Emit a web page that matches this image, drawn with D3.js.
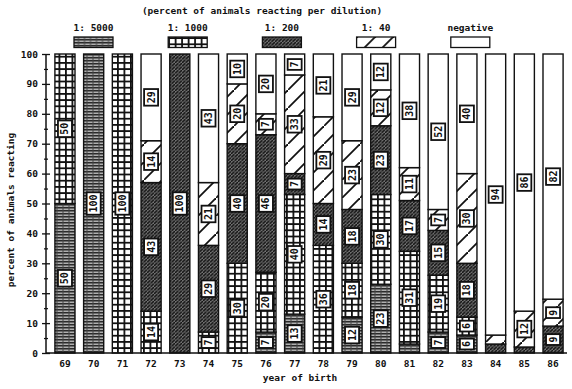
<!DOCTYPE html>
<html>
<head>
<meta charset="utf-8">
<script src="https://cdn.jsdelivr.net/npm/d3@7"></script>
<style>
  body { margin: 0; background: #fff; }
  svg text { font-family: "DejaVu Sans Mono", monospace; font-weight: bold; fill: #111; }
</style>
</head>
<body>
<div id="chart"></div>
<script>
// values, bottom to top of each bar
var years    = ["69","70","71","72","73","74","75","76","77","78","79","80","81","82","83","84","85","86"];
var d5000    = [50,100,  0,  0,  0,  0,  0,  7, 13,  0, 12, 23,  3,  7,  6,  0,  0,  0];
var d1000    = [50,  0,100, 14,  0,  7, 30, 20, 40, 36, 18, 30, 31, 19,  6,  0,  0,  0];
var d200     = [ 0,  0,  0, 43,100, 29, 40, 46,  7, 14, 18, 23, 17, 15, 18,  3,  2,  9];
var d40      = [ 0,  0,  0, 14,  0, 21, 20,  7, 33, 29, 23, 12, 11,  7, 30,  3, 12,  9];
var dNeg     = [ 0,  0,  0, 29,  0, 43, 10, 20,  7, 21, 29, 12, 38, 52, 40, 94, 86, 82];
var keys     = ["1: 5000","1: 1000","1: 200","1: 40","negative"];
var yTicks   = [0,10,20,30,40,50,60,70,80,90,100];

var W = 572, H = 389;
var svg = d3.select("#chart").append("svg").attr("width", W).attr("height", H);

// fill patterns
var defs = svg.append("defs");
var p = defs.append("pattern").attr("id","p5000").attr("patternUnits","userSpaceOnUse").attr("width",6).attr("height",3);
p.append("rect").attr("width",6).attr("height",3).attr("fill","#b0b0b0");
p.append("rect").attr("width",6).attr("height",1.5).attr("fill","#2a2a2a");
p.append("rect").attr("x",2.5).attr("width",1).attr("height",3).attr("fill","#444");
p = defs.append("pattern").attr("id","p1000").attr("patternUnits","userSpaceOnUse").attr("width",6.5).attr("height",6.2);
p.append("rect").attr("width",6.5).attr("height",6.2).attr("fill","#111");
p.append("rect").attr("x",1.8).attr("y",1.8).attr("width",4.7).attr("height",4.4).attr("fill","#fff");
p = defs.append("pattern").attr("id","p200").attr("patternUnits","userSpaceOnUse").attr("width",3.5).attr("height",3.5);
p.append("rect").attr("width",3.5).attr("height",3.5).attr("fill","#707070");
p.append("path").attr("d","M-1,4.5 L4.5,-1").attr("stroke","#111").attr("stroke-width",1.4);
p = defs.append("pattern").attr("id","p40").attr("patternUnits","userSpaceOnUse").attr("width",18).attr("height",18);
p.append("rect").attr("width",18).attr("height",18).attr("fill","#fff");
p.append("path").attr("d","M-2,20 L20,-2").attr("stroke","#111").attr("stroke-width",1.8);
var fills = {"1: 5000":"url(#p5000)","1: 1000":"url(#p1000)","1: 200":"url(#p200)","1: 40":"url(#p40)","negative":"#fff"};

var data = years.map(function(yr, i) {
  return {year: yr, "1: 5000": d5000[i], "1: 1000": d1000[i], "1: 200": d200[i], "1: 40": d40[i], "negative": dNeg[i]};
});

var x = d3.scaleBand().domain(years).range([50.6, 567.4]).paddingInner(0.3).paddingOuter(0.15);
var y = d3.scaleLinear().domain([0, 100]).range([353, 54]);

var series = d3.stack().keys(keys)(data);

var g = svg.append("g");
g.selectAll("g.ser")
  .data(series)
  .enter().append("g")
    .attr("class","ser")
    .attr("fill", function(d) { return fills[d.key]; })
  .selectAll("rect")
  .data(function(d) { return d.filter(function(e) { return e[1] - e[0] > 0; }); })
  .enter().append("rect")
    .attr("x", function(d) { return x(d.data.year); })
    .attr("y", function(d) { return y(d[1]); })
    .attr("width", x.bandwidth())
    .attr("height", function(d) { return y(d[0]) - y(d[1]); })
    .attr("stroke", "#111")
    .attr("stroke-width", 1.4);

// value boxes inside segments
series.forEach(function(s) {
  s.forEach(function(d) {
    var v = d[1] - d[0];
    if (v < 5) return;
    var cx = x(d.data.year) + x.bandwidth() / 2;
    var cy = y((d[0] + d[1]) / 2);
    var txt = String(v);
    var len = txt.length * 5.8 + 5;
    var lb = g.append("g").attr("transform", "translate(" + cx + "," + cy + ")");
    lb.append("rect").attr("x", -7).attr("y", -len / 2).attr("width", 14).attr("height", len)
      .attr("fill", "#fff").attr("stroke", "#111").attr("stroke-width", 1.8);
    lb.append("text").attr("transform", "rotate(-90)").attr("text-anchor", "middle")
      .attr("dy", "0.35em").attr("font-size", 10).text(txt);
  });
});

// y axis with crossing ticks
var ya = svg.append("g").attr("transform", "translate(46,0)")
  .call(d3.axisLeft(y).tickValues(yTicks).tickSize(4).tickPadding(4));
ya.select(".domain").attr("stroke","#111").attr("stroke-width",1.5).attr("d","M0,353V54");
ya.selectAll(".tick line").attr("x1", 4).attr("x2", -4).attr("stroke","#111").attr("stroke-width",1.3);
ya.selectAll(".tick text").attr("font-size", 9.5).style("font-family","DejaVu Sans Mono").style("font-weight","bold");
var ym = svg.append("g").attr("transform", "translate(46,0)")
  .call(d3.axisLeft(y).tickValues(d3.range(5, 100, 10)).tickSize(2).tickFormat(""));
ym.select(".domain").remove();
ym.selectAll(".tick line").attr("x1", 2).attr("stroke","#111").attr("stroke-width",1.2);

// x axis
var xa = svg.append("g").attr("transform", "translate(0,353)")
  .call(d3.axisBottom(x).tickSize(0).tickPadding(7));
xa.select(".domain").attr("stroke","#111").attr("stroke-width",1.5).attr("d","M46,0H567");
xa.selectAll(".tick text").attr("font-size", 9.5).style("font-family","DejaVu Sans Mono").style("font-weight","bold");

// titles
svg.append("text").attr("x", 262).attr("y", 14).attr("text-anchor","middle").attr("font-size", 9.5)
  .text("(percent of animals reacting per dilution)");
svg.append("text").attr("x", 300).attr("y", 381).attr("text-anchor","middle").attr("font-size", 9.5)
  .text("year of birth");
svg.append("text").attr("transform","translate(14,210) rotate(-90)").attr("text-anchor","middle").attr("font-size", 9.5)
  .text("percent of animals reacting");

// legend
var legend = svg.append("g").selectAll("g").data(keys).enter().append("g")
  .attr("transform", function(d, i) { return "translate(" + (93.5 + i * 94.2) + ",0)"; });
legend.append("text").attr("y", 31).attr("text-anchor","middle").attr("font-size", 9.5).text(function(d) { return d; });
legend.append("rect").attr("x", -19.5).attr("y", 37).attr("width", 39).attr("height", 10.5)
  .attr("fill", function(d) { return fills[d]; }).attr("stroke","#111").attr("stroke-width",1.3);
</script>
</body>
</html>
